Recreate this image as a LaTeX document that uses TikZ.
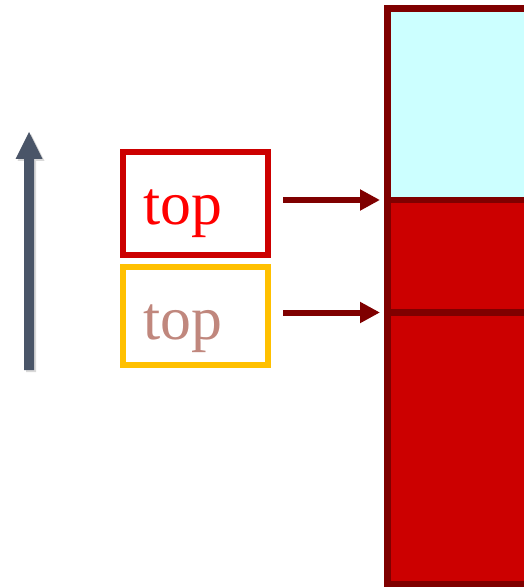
\documentclass[tikz,border=0pt]{standalone}
\usepackage{fontspec}
\setmainfont{Liberation Serif}
\usepackage{xcolor}
\usepackage{tikz}
\usetikzlibrary{positioning,arrows.meta,shadows}
\definecolor{boxred}{HTML}{CC0000}
\definecolor{topred}{HTML}{FF0000}
\definecolor{boxyellow}{HTML}{FFC000}
\definecolor{toprose}{HTML}{C0877D}
\definecolor{stackborder}{HTML}{7F0000}
\definecolor{cellcyan}{HTML}{CCFFFF}
\definecolor{cellred}{HTML}{CC0000}
\definecolor{slate}{HTML}{4A5568}

\begin{document}
\begin{tikzpicture}[x=1bp, y=-1bp,
    ptrbox/.style={draw, line width=6bp, minimum width=145bp, inner xsep=20bp, text width=105bp, align=left,
        font=\fontsize{62}{62}\selectfont, text depth=0bp},
    cell/.style={draw=stackborder, line width=6.5bp, minimum width=160bp, inner sep=0pt, outer sep=0pt},
    ptr/.style={draw=stackborder, line width=6bp, -{Triangle[length=20bp,width=20bp]}, shorten <=12bp, shorten >=7.5bp}]
    \useasboundingbox (0,0) rectangle (524,587);
    \fill[slate, drop shadow={shadow xshift=2bp, shadow yshift=-2bp, opacity=0.3}]
        (24,370) -- (24,159) -- (15.5,159) -- (29,132) -- (42.5,159) -- (34,159) -- (34,370) -- cycle;
    \node[cell, fill=cellcyan, minimum height=191.5bp, anchor=north west] (cellA) at (387.5,8.5) {};
    \node[cell, fill=cellred, minimum height=112.5bp, below=0bp of cellA] (cellB) {};
    \node[cell, fill=cellred, minimum height=271.5bp, below=0bp of cellB] (cellC) {};
    \node[ptrbox, draw=boxred, text=topred, minimum height=103bp, text height=41bp] (boxA) at (195.5,203.5) {top};
    \node[ptrbox, draw=boxyellow, text=toprose, minimum height=98bp, text height=46bp, below=6bp of boxA] (boxB) {top};
    \draw[ptr] (boxA.east |- cellB.north west) -- (cellB.north west);
    \draw[ptr] (boxB.east |- cellC.north west) -- (cellC.north west);
\end{tikzpicture}
\end{document}
